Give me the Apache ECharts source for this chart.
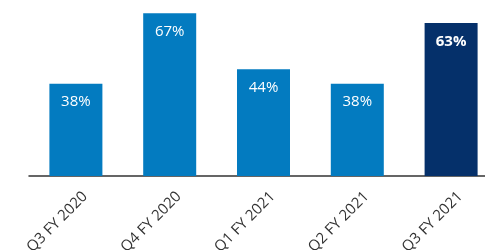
<!DOCTYPE html>
<html>
<head>
<meta charset="utf-8">
<script src="https://cdn.jsdelivr.net/npm/echarts@6/dist/echarts.min.js"></script>
<style>
  html, body { margin: 0; padding: 0; background: #fff; }
  #chart { width: 485px; height: 250px; }
</style>
</head>
<body>
<div id="chart"></div>
<script>
// 季度类目与数值
const quarters = ['Q3 FY 2020', 'Q4 FY 2020', 'Q1 FY 2021', 'Q2 FY 2021', 'Q3 FY 2021']
const shares = [38, 67, 44, 38, 63]

const lightBlue = '#037bc0'
const darkBlue = '#05306a'

const chart = echarts.init(document.getElementById('chart'))

const option = {
    animation: false,
    grid: {
        left: 29,
        right: -13,
        top: 6,
        bottom: 74,
        outerBoundsMode: 'none',
        containLabel: false,
    },
    xAxis: {
        type: 'category',
        data: quarters,
        axisLine: {
            lineStyle: { color: '#333', width: 1.5 }
        },
        axisTick: { show: false },
        axisLabel: {
            rotate: 45,
            margin: 9,
            color: '#333',
            fontSize: 15,
            fontFamily: 'Open Sans',
            interval: 0,
            verticalAlign: 'top',  // 让旋转后的标签向右下偏移
            lineHeight: 26,
        },
    },
    yAxis: {
        type: 'value',
        min: 0,
        max: 70,
        show: false,
    },
    series: {
        type: 'bar',
        barWidth: 53,
        data: shares.map((v, i) => {
            const last = i === shares.length - 1
            return {
                value: v,
                itemStyle: { color: last ? darkBlue : lightBlue },
                label: { fontWeight: last ? 'bold' : 'normal' },
            }
        }),
        label: {
            show: true,
            position: 'insideTop',
            distance: 11,
            color: '#fff',
            fontSize: 15,
            fontFamily: 'Open Sans',
            formatter: '{c}%',
        },
    },
}
chart.setOption(option)
</script>
</body>
</html>
